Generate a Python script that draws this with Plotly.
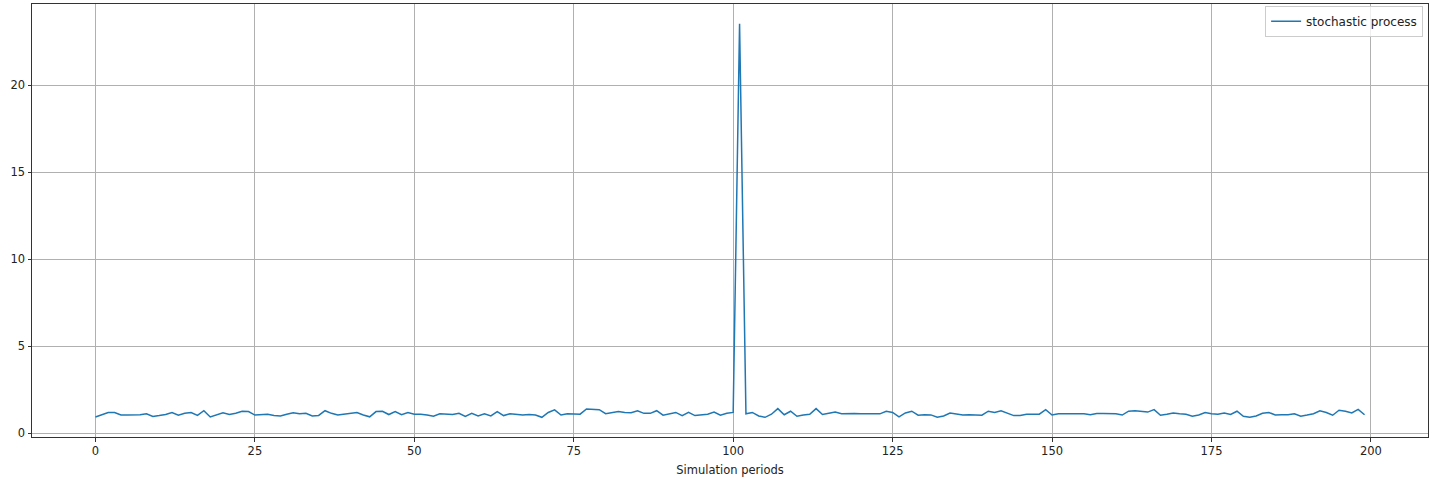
import plotly.graph_objects as go

periods = list(range(200))
values = [
    0.94, 1.05, 1.20, 1.20, 1.05, 1.06, 1.06, 1.07, 1.12, 0.97,
    1.02, 1.08, 1.20, 1.04, 1.15, 1.20, 1.03, 1.30, 0.94, 1.05,
    1.18, 1.08, 1.15, 1.27, 1.25, 1.05, 1.08, 1.10, 1.02, 1.00,
    1.10, 1.18, 1.12, 1.15, 1.00, 1.03, 1.30, 1.15, 1.05, 1.10,
    1.15, 1.20, 1.05, 0.95, 1.25, 1.27, 1.08, 1.25, 1.07, 1.20,
    1.10, 1.10, 1.05, 0.98, 1.12, 1.12, 1.08, 1.15, 0.97, 1.15,
    1.00, 1.12, 1.00, 1.25, 1.02, 1.12, 1.10, 1.05, 1.08, 1.05,
    0.92, 1.20, 1.35, 1.05, 1.12, 1.10, 1.10, 1.40, 1.38, 1.36,
    1.13, 1.18, 1.25, 1.20, 1.18, 1.30, 1.15, 1.15, 1.30, 1.04,
    1.12, 1.20, 1.02, 1.20, 1.02, 1.05, 1.10, 1.22, 1.04, 1.15,
    1.20, 23.55, 1.12, 1.20, 1.00, 0.92, 1.10, 1.42, 1.07, 1.27,
    0.98, 1.05, 1.10, 1.42, 1.08, 1.15, 1.22, 1.13, 1.15, 1.14,
    1.12, 1.12, 1.10, 1.12, 1.27, 1.20, 0.95, 1.17, 1.27, 1.04,
    1.07, 1.06, 0.92, 1.00, 1.17, 1.10, 1.05, 1.07, 1.05, 1.04,
    1.27, 1.20, 1.30, 1.15, 1.02, 1.02, 1.10, 1.10, 1.10, 1.36,
    1.05, 1.12, 1.12, 1.12, 1.12, 1.12, 1.07, 1.14, 1.14, 1.13,
    1.13, 1.05, 1.27, 1.30, 1.28, 1.22, 1.36, 1.04, 1.10, 1.17,
    1.13, 1.10, 0.98, 1.05, 1.20, 1.12, 1.10, 1.17, 1.08, 1.27,
    0.98, 0.93, 1.00, 1.15, 1.20, 1.05, 1.07, 1.07, 1.12, 0.98,
    1.05, 1.13, 1.30, 1.20, 1.04, 1.33, 1.27, 1.17, 1.38, 1.07,
]
x_ticks = [0, 25, 50, 75, 100, 125, 150, 175, 200]
y_ticks = [0, 5, 10, 15, 20]
series_name = "stochastic process"
x_title = "Simulation periods"

# matplotlib-like 5% margins
xmin, xmax = min(periods), max(periods)
ymin, ymax = min(values), max(values)
xpad = 0.05 * (xmax - xmin)
ypad = 0.05 * (ymax - ymin)

fig = go.Figure()
fig.add_trace(go.Scatter(
    x=periods, y=values, mode="lines", name=series_name,
    line=dict(color="#1f77b4", width=1.5),
))

font = dict(family="DejaVu Sans", size=11.5, color="#222222")
axis_common = dict(
    showline=True, linecolor="#333333", linewidth=1, mirror=True,
    showgrid=True, gridcolor="#b0b0b0", gridwidth=1,
    ticks="outside", ticklen=3.5, tickcolor="#333333", tickwidth=1,
    zeroline=False, tickfont=font, automargin=False,
)

fig.update_layout(
    width=1438, height=481,
    margin=dict(l=32, r=10, t=4, b=44, autoexpand=False),
    paper_bgcolor="white", plot_bgcolor="white",
    font=font,
    showlegend=True,
    legend=dict(
        x=0.9965, y=0.996, xanchor="right", yanchor="top",
        bgcolor="rgba(255,255,255,0.8)", bordercolor="#cccccc", borderwidth=1,
        font=dict(family="DejaVu Sans", size=12, color="#222222"),
        itemwidth=30,
    ),
    xaxis=dict(
        range=[xmin - xpad, xmax + xpad], tickvals=x_ticks,
        title=dict(text=x_title, font=dict(family="DejaVu Sans", size=11.5, color="#222222"), standoff=8),
        **axis_common,
    ),
    yaxis=dict(
        range=[ymin - ypad, ymax + ypad], tickvals=y_ticks,
        **axis_common,
    ),
)

fig.write_html(
    "out.html",
    config={"displayModeBar": False},
    post_script="document.body.style.margin='0';document.body.style.overflow='hidden';",
)
